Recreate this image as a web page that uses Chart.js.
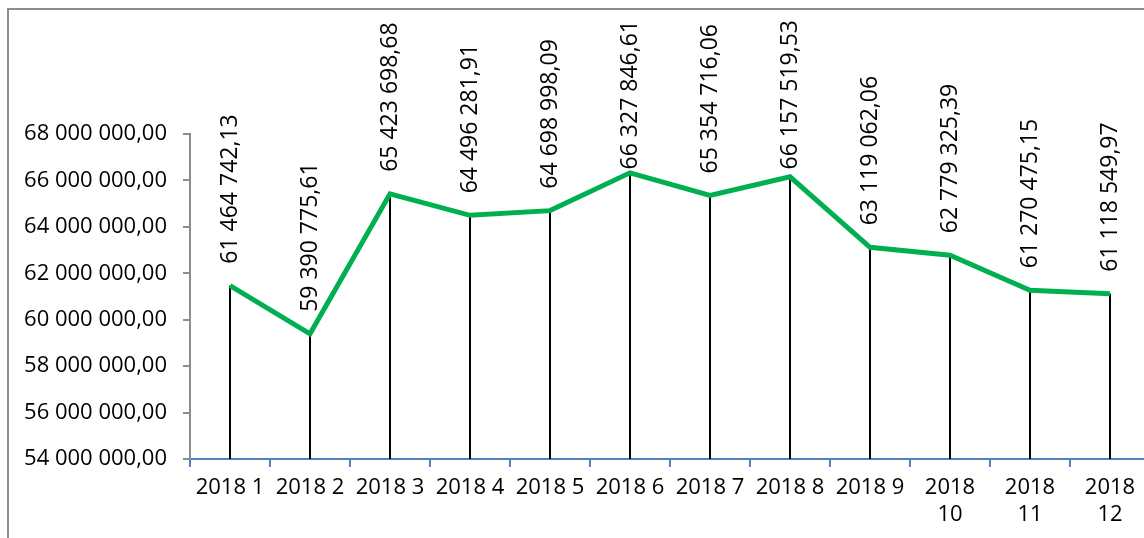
<!DOCTYPE html>
<html lang="en">
  <head>
    <meta charset="UTF-8" />
    <title>2018</title>
    <script src="https://cdn.jsdelivr.net/npm/chart.js"></script>
    <style>
      body {
        margin: 0;
        background: #fff;
        overflow: hidden;
      }
      .wrap {
        position: relative;
        width: 1144px;
        height: 538px;
        overflow: hidden;
      }
      .frame {
        position: absolute;
        left: 7px;
        top: 8px;
        width: 1300px;
        height: 700px;
        border-left: 2px solid #8c8c8c;
        border-top: 2px solid #8c8c8c;
      }
      canvas {
        position: absolute;
        left: 0;
        top: 0;
      }
    </style>
  </head>
  <body>
    <div class="wrap">
      <div class="frame"></div>
      <canvas id="myChart" width="1150" height="538"></canvas>
    </div>

    <script>
      // Dati
      const categories = [
        "2018 1", "2018 2", "2018 3", "2018 4", "2018 5", "2018 6",
        "2018 7", "2018 8", "2018 9", ["2018", "10"], ["2018", "11"], ["2018", "12"],
      ];
      const values = [
        61464742.13, 59390775.61, 65423698.68, 64496281.91, 64698998.09, 66327846.61,
        65354716.06, 66157519.53, 63119062.06, 62779325.39, 61270475.15, 61118549.97,
      ];
      const yTicks = [54000000, 56000000, 58000000, 60000000, 62000000, 64000000, 66000000, 68000000];

      const FONT = "'Open Sans', sans-serif";

      // 61 464 742,13
      function fmt(v) {
        const parts = v.toFixed(2).split(".");
        const int = parts[0].replace(/\B(?=(\d{3})+(?!\d))/g, " ");
        return int + "," + parts[1];
      }

      // linee verticali dal punto all'asse + etichette ruotate
      const dropLines = {
        id: "dropLines",
        beforeDatasetsDraw(chart) {
          const ctx = chart.ctx;
          const meta = chart.getDatasetMeta(0);
          const bottom = chart.scales.y.getPixelForValue(yTicks[0]);
          ctx.save();
          ctx.strokeStyle = "#000";
          ctx.lineWidth = 2;
          meta.data.forEach((pt) => {
            ctx.beginPath();
            ctx.moveTo(Math.round(pt.x), pt.y);
            ctx.lineTo(Math.round(pt.x), bottom);
            ctx.stroke();
          });
          ctx.restore();
        },
        afterDatasetsDraw(chart) {
          const ctx = chart.ctx;
          const meta = chart.getDatasetMeta(0);
          ctx.save();
          ctx.fillStyle = "#000";
          ctx.font = "23px " + FONT;
          ctx.textAlign = "left";
          ctx.textBaseline = "middle";
          meta.data.forEach((pt, i) => {
            const txt = fmt(values[i]);
            const len = ctx.measureText(txt).width;
            // sopra il punto, ma senza uscire dal riquadro
            const start = Math.max(pt.y - 22, 20 + len);
            ctx.save();
            ctx.translate(pt.x, start);
            ctx.rotate(-Math.PI / 2);
            ctx.fillText(txt, 0, 0);
            ctx.restore();
          });
          ctx.restore();
        },
      };

      const ctx = document.getElementById("myChart").getContext("2d");
      new Chart(ctx, {
        type: "line",
        data: {
          labels: categories,
          datasets: [
            {
              data: values,
              borderColor: "#00b050",
              borderWidth: 5,
              pointRadius: 0,
              tension: 0,
              fill: false,
            },
          ],
        },
        options: {
          responsive: false,
          animation: false,
          layout: { padding: { top: 134, left: 0, right: 0, bottom: 0 } },
          plugins: {
            legend: { display: false },
            tooltip: { enabled: false },
          },
          scales: {
            x: {
              offset: true,
              grid: {
                offset: true,
                drawOnChartArea: false,
                color: "#4f81bd",
                tickLength: 8,
                lineWidth: 2,
              },
              border: { color: "#4f81bd", width: 2 },
              ticks: {
                color: "#000",
                font: { family: FONT, size: 22 },
                padding: 8,
                maxRotation: 0,
                autoSkip: false,
              },
              afterFit(scale) {
                scale.height = 79;
              },
            },
            y: {
              min: 54000000,
              max: 68000000,
              afterBuildTicks(scale) {
                scale.ticks = yTicks.map((v) => ({ value: v }));
              },
              grid: {
                drawOnChartArea: false,
                color: "#8c8c8c",
                tickLength: 7,
                lineWidth: 2,
              },
              border: { color: "#8c8c8c", width: 2 },
              ticks: {
                color: "#000",
                font: { family: FONT, size: 22 },
                padding: 16,
                callback: (v) => fmt(v),
              },
              afterFit(scale) {
                scale.width = 190;
              },
            },
          },
        },
        plugins: [dropLines],
      });
    </script>
  </body>
</html>
